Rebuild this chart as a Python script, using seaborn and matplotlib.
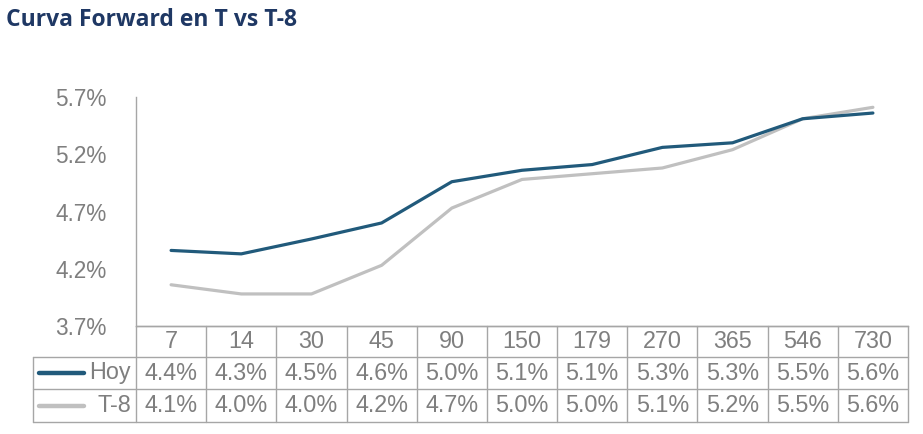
import numpy as np
import pandas as pd
import matplotlib
matplotlib.use('Agg')
import matplotlib.pyplot as plt
import seaborn as sns
from matplotlib.lines import Line2D

sns.set_theme(style='white')
plt.rcParams['font.family'] = ['Liberation Sans', 'DejaVu Sans']

# data
plazos = ['7', '14', '30', '45', '90', '150', '179', '270', '365', '546', '730']
hoy = [4.36, 4.33, 4.46, 4.60, 4.96, 5.06, 5.11, 5.26, 5.30, 5.51, 5.56]
t8 = [4.06, 3.98, 3.98, 4.23, 4.73, 4.98, 5.03, 5.08, 5.24, 5.51, 5.61]
series_names = ['Hoy', 'T-8']
yticks = [3.7, 4.2, 4.7, 5.2, 5.7]

c_hoy = '#215A7B'
c_t8 = '#C0C0C0'
c_text = '#7F7F7F'
c_grid = '#A6A6A6'

fig = plt.figure(figsize=(9.23, 4.34), dpi=100)
ax = fig.add_axes([136/923, 1-326/434, (908-136)/923, (326-97)/434])

pos = np.arange(len(plazos))
df = pd.DataFrame({'pos': np.concatenate([pos, pos]),
                   'valor': hoy + t8,
                   'serie': [series_names[0]]*len(plazos) + [series_names[1]]*len(plazos)})
sns.lineplot(data=df, x='pos', y='valor', hue='serie', palette=[c_hoy, c_t8],
             linewidth=2.3, ax=ax, legend=False, hue_order=series_names)
# Hoy on top
ax.lines[0].set_zorder(3)

ax.set_xlim(-0.5, len(plazos) - 0.5)
ax.set_ylim(3.7, 5.7)
ax.set_yticks(yticks)
ax.set_yticklabels([f'{v:.1f}%' for v in yticks], color=c_text, fontsize=16.3)
ax.tick_params(axis='y', length=0, pad=21)
ax.set_xticks([])
ax.set_xlabel('')
ax.set_ylabel('')
for s in ['top', 'right']:
    ax.spines[s].set_visible(False)
ax.spines['left'].set_color(c_grid)
ax.spines['bottom'].set_color(c_grid)
ax.spines['left'].set_linewidth(1)
ax.spines['bottom'].set_linewidth(1)

# table below the axis (x in data, y in axes fraction)
trans = ax.get_xaxis_transform()
ah = 229.0
rows = [0, -31/ah, -63/ah, -96/ah]
xl = -0.5 - 103/70.18
n = len(plazos)
kw = dict(transform=trans, clip_on=False, color=c_grid, linewidth=1)

ax.add_line(Line2D([-0.5, n - 0.5], [rows[0], rows[0]], **kw))
for r in rows[1:]:
    ax.add_line(Line2D([xl, n - 0.5], [r, r], **kw))
for i in range(n + 1):
    ax.add_line(Line2D([i - 0.5, i - 0.5], [rows[0], rows[3]], **kw))
ax.add_line(Line2D([xl, xl], [rows[1], rows[3]], **kw))

fs = 16.8
for i, p in enumerate(plazos):
    ax.text(i, (rows[0] + rows[1]) / 2, p, transform=trans, ha='center', va='center',
            color=c_text, fontsize=fs, clip_on=False)
    ax.text(i, (rows[1] + rows[2]) / 2, f'{hoy[i]:.1f}%', transform=trans, ha='center',
            va='center', color=c_text, fontsize=fs, clip_on=False)
    ax.text(i, (rows[2] + rows[3]) / 2, f'{t8[i]:.1f}%', transform=trans, ha='center',
            va='center', color=c_text, fontsize=fs, clip_on=False)

# legend keys in the label column
for k, (name, col) in enumerate(zip(series_names, [c_hoy, c_t8])):
    yc = (rows[k + 1] + rows[k + 2]) / 2
    ax.add_line(Line2D([xl + 6/70.18, xl + 51/70.18], [yc, yc], transform=trans,
                       clip_on=False, color=col, linewidth=3.2, solid_capstyle='round'))
    ax.text(-0.5 - 5/70.18, yc, name, transform=trans, ha='right', va='center',
            color=c_text, fontsize=fs, clip_on=False)

fig.text(6/923, 1 - 20/434, 'Curva Forward en T vs T-8', ha='left', va='center',
         fontsize=16.5, fontweight='bold', color='#1F3864', family=['Open Sans', 'DejaVu Sans'])

fig.savefig('out.png', dpi=100)
